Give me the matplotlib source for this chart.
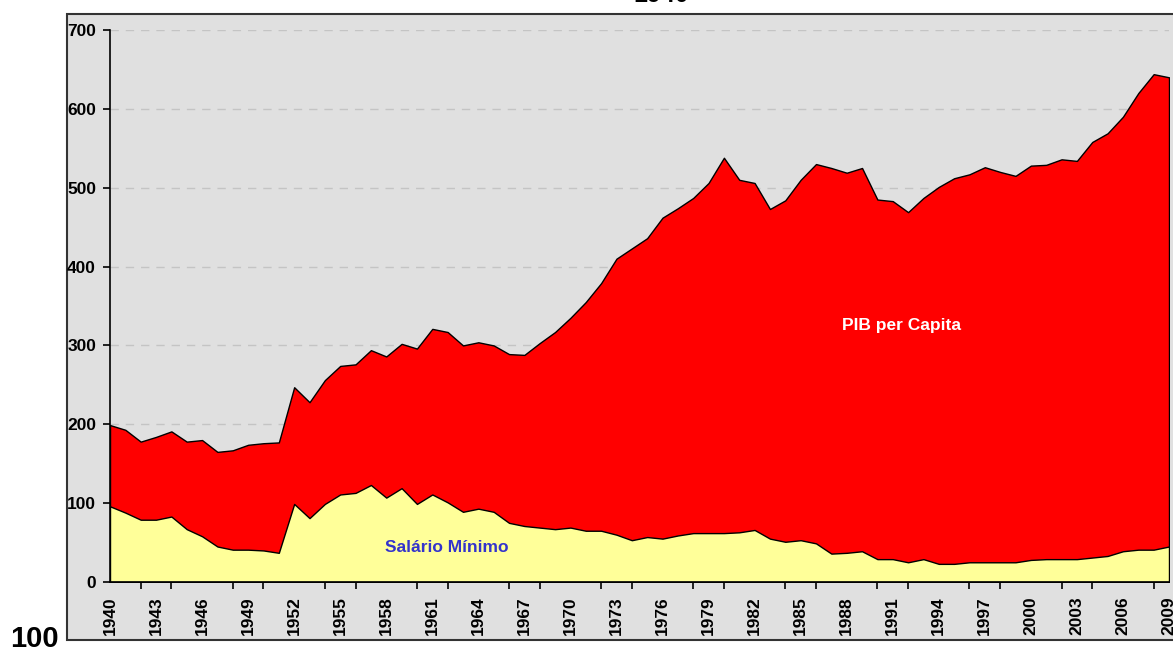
"""
PIB per Capita vs Salário Mínimo, 1940-2009 (area chart).
"""

import matplotlib
matplotlib.use("Agg")
import matplotlib.pyplot as plt
from matplotlib.patches import Rectangle

plt.rcParams["font.family"] = ["Liberation Sans", "DejaVu Sans"]

YEARS = list(range(1940, 2010))

PIB = [
    199, 193, 178, 184, 191, 178, 180, 165, 167, 174,   # 1940-49
    176, 177, 247, 228, 256, 274, 276, 294, 286, 302,   # 1950-59
    296, 321, 317, 300, 304, 300, 289, 288, 303, 317,   # 1960-69
    335, 355, 379, 410, 423, 436, 462, 474, 487, 506,   # 1970-79
    538, 510, 506, 473, 484, 510, 530, 525, 519, 525,   # 1980-89
    485, 483, 469, 487, 501, 512, 517, 526, 520, 515,   # 1990-99
    528, 529, 536, 534, 558, 569, 590, 620, 644, 640,   # 2000-09
]

SALARIO = [
    96, 88, 79, 79, 83, 67, 58, 45, 41, 41,
    40, 37, 99, 81, 99, 111, 113, 123, 107, 119,
    99, 111, 101, 89, 93, 89, 75, 71, 69, 67,
    69, 65, 65, 60, 53, 57, 55, 59, 62, 62,
    62, 63, 66, 55, 51, 53, 49, 36, 37, 39,
    29, 29, 25, 29, 23, 23, 25, 25, 25, 25,
    28, 29, 29, 29, 31, 33, 39, 41, 41, 45,
]

LABEL_YEARS = list(range(1940, 2010, 3))
TICK_YEARS = list(range(1940, 2010, 2))

W, H = 1173, 648
fig = plt.figure(figsize=(W / 100, H / 100), dpi=100)
fig.patch.set_facecolor("white")

# grey chart box with dark border (right edge runs off the picture)
fig.patches.append(Rectangle((67 / W, 1 - 640 / H), 1.2, (640 - 14) / H,
                             transform=fig.transFigure, facecolor="#E0E0E0",
                             edgecolor="#333333", linewidth=1.5, zorder=-5))

ax = fig.add_axes([110 / W, 1 - 582 / H, (1169 - 110) / W, (582 - 30) / H])
ax.set_facecolor("none")

ax.fill_between(YEARS, PIB, 0, facecolor="#FF0000", edgecolor="black",
                linewidth=1.0, zorder=2)
ax.fill_between(YEARS, SALARIO, 0, facecolor="#FFFF99", edgecolor="black",
                linewidth=1.0, zorder=3)

ax.set_xlim(1940, 2009)
ax.set_ylim(0, 700)
ax.set_yticks(range(0, 701, 100))
ax.yaxis.grid(True, linestyle=(0, (6, 5)), color="#C4C4C4", linewidth=1.0)
ax.set_axisbelow(True)

ax.set_xticks(LABEL_YEARS)
ax.set_xticklabels([str(y) for y in LABEL_YEARS], rotation=90,
                   fontsize=12.5, fontweight="bold")
ax.set_xticks(TICK_YEARS, minor=True)
ax.tick_params(axis="x", which="major", length=0, pad=10)
ax.tick_params(axis="x", which="minor", length=5, width=1.2, color="black")
ax.tick_params(axis="y", length=5, width=1.2, pad=5)
for lbl in ax.get_yticklabels():
    lbl.set_fontsize(12.5)
    lbl.set_fontweight("bold")

for side in ("top", "right"):
    ax.spines[side].set_visible(False)
ax.spines["left"].set_linewidth(1.2)
ax.spines["bottom"].set_linewidth(1.2)
ax.spines["bottom"].set_zorder(5)

ax.text(1991.6, 325, "PIB per Capita", color="white", fontsize=12.5,
        fontweight="bold", ha="center", va="center", zorder=6)
ax.text(1961.95, 44, "Salário Mínimo", color="#3333CC", fontsize=12.5,
        fontweight="bold", ha="center", va="center", zorder=6)

fig.text(10 / W, 1 - 647 / H, "100", fontsize=21, fontweight="bold",
         ha="left", va="baseline")
fig.text(661 / W, 1 - 2 / H, "1940", fontsize=18, fontweight="bold",
         ha="center", va="baseline")

fig.savefig("out.png", dpi=100)
